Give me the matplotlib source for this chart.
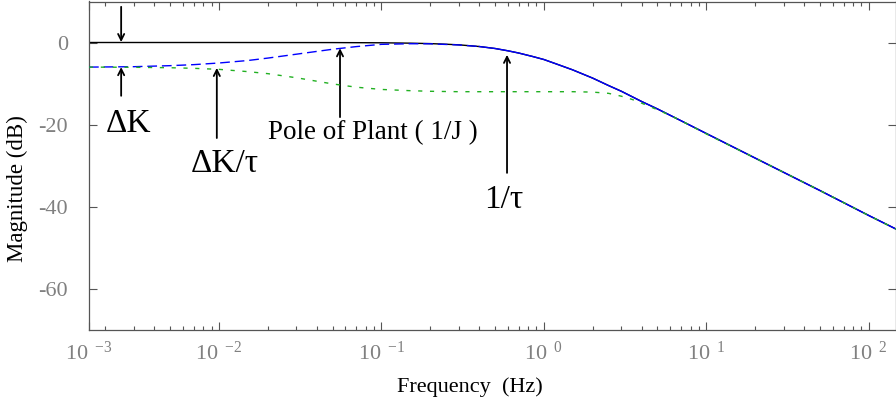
import matplotlib
matplotlib.use("Agg")
import matplotlib.pyplot as plt
from matplotlib.ticker import FixedLocator, FixedFormatter, LogLocator, NullFormatter

plt.rcParams['font.family'] = ['Liberation Serif', 'DejaVu Serif']
plt.rcParams['mathtext.fontset'] = 'custom'
plt.rcParams['mathtext.rm'] = 'Liberation Serif'
plt.rcParams['mathtext.it'] = 'Liberation Serif:italic'
plt.rcParams['axes.unicode_minus'] = False

# ---------------- data ----------------
freq_black = [0.001585, 0.01, 0.05, 0.1, 0.15, 0.2, 0.25, 0.3, 0.4, 0.5, 0.6, 0.7,
              0.85, 1.0, 1.2, 1.5, 2.0, 2.5, 3.0, 4.0, 5.0, 7.0, 10, 20, 50, 100, 147]
mag_black = [0.0, 0.0, -0.02, -0.07, -0.16, -0.27, -0.42, -0.57, -0.98, -1.46, -2.02, -2.57,
             -3.40, -4.15, -5.27, -6.66, -8.7, -10.5, -11.9, -14.4, -16.2, -19.1, -22.2,
             -28.2, -36.1, -42.2, -45.5]

freq_blue = [0.001585, 0.003, 0.005, 0.007, 0.01, 0.015, 0.02, 0.03, 0.05, 0.07, 0.1,
             0.15, 0.2, 0.3, 0.4, 0.5, 0.6, 0.7, 0.85, 1.0, 1.2, 1.5, 2.0, 2.5, 3.0, 4.0,
             5.0, 7.0, 10, 20, 50, 100, 147]
mag_blue = [-6.0, -5.9, -5.65, -5.4, -5.0, -4.4, -3.8, -2.85, -1.65, -1.0, -0.45,
            -0.3, -0.32, -0.6, -0.98, -1.46, -2.02, -2.57, -3.40, -4.15, -5.27, -6.66,
            -8.7, -10.5, -11.9, -14.4, -16.2, -19.1, -22.2, -28.2, -36.1, -42.2, -45.5]

freq_green = [0.001585, 0.003, 0.005, 0.007, 0.01, 0.015, 0.02, 0.03, 0.05, 0.07, 0.1,
              0.15, 0.2, 0.3, 0.5, 1.0, 1.5, 2.0, 2.5, 3.0, 3.5, 4.0, 5.0, 6.0, 7.0,
              10, 20, 50, 100, 147]
mag_green = [-6.0, -6.05, -6.15, -6.3, -6.55, -7.1, -7.6, -8.6, -10.1, -10.9, -11.45,
             -11.75, -11.9, -12.0, -12.0, -12.0, -12.0, -12.1, -12.4, -13.1, -13.9,
             -14.8, -16.4, -17.8, -19.1, -22.3, -28.2, -36.1, -42.2, -45.5]

# frequency above which the blue dashed trace renders as a solid line
blue_solid_from = 0.4

x_limits = [0.001585, 147]
y_limits = [-70, 10]
x_major = [0.001585, 1e-2, 1e-1, 1e0, 1e1, 1e2]
x_exponents = ['-3', '-2', '-1', '0', '1', '2']
y_major = [-60, -40, -20, 0]

# annotations: (text, text_x, text_y, arrow_x, arrow_from_y, arrow_to_y)
annotations = [
    ("ΔK", 0.00279, -21.8, 0.0025, -13.0, -6.0),
    ("ΔK/τ", 0.0109, -31.5, 0.0097, -23.3, -6.2),
    ("Pole of Plant ( 1/J )", 0.0881, -23.5, 0.0556, -18.2, -1.4),
    ("1/τ", 0.569, -40.4, 0.593, -31.8, -3.0),
]
down_arrow = (0.0025, 8.7, 0.1)

# ---------------- figure ----------------
fig = plt.figure(figsize=(8.96, 4.12), dpi=100)
ax = fig.add_axes([89/896, (412-329.5)/412, 807/896, 328/412])

ax.plot(freq_black, mag_black, color='black', lw=1.0, solid_capstyle='butt', zorder=2)

i_split = next(i for i, f in enumerate(freq_blue) if f >= blue_solid_from)
ax.plot(freq_blue[:i_split + 1], mag_blue[:i_split + 1], color='#0000ff', lw=1.0,
        linestyle=(0, (7, 3.5)), zorder=3)
ax.plot(freq_blue[i_split:], mag_blue[i_split:], color='#0000ff', lw=1.0,
        linestyle='-', zorder=3)
ax.plot(freq_green, mag_green, color='#22b022', lw=1.0, linestyle=(0, (3, 5.5)), zorder=4)

ax.set_xscale('log')
ax.set_xlim(x_limits)
ax.set_ylim(y_limits)

x_labels = [r'$\mathregular{10}^{\ \ \mathregular{%s}}$' % e for e in x_exponents]
ax.xaxis.set_major_locator(FixedLocator(x_major))
ax.xaxis.set_major_formatter(FixedFormatter(x_labels))
ax.xaxis.set_minor_locator(LogLocator(base=10, subs=[2, 3, 4, 5, 6, 7, 8, 9], numticks=20))
ax.xaxis.set_minor_formatter(NullFormatter())
ax.yaxis.set_major_locator(FixedLocator(y_major))

spine_col = '#555555'
for s in ax.spines.values():
    s.set_color(spine_col)
    s.set_linewidth(0.9)

ax.tick_params(which='both', direction='in', top=True, right=True, color=spine_col, width=0.8)
ax.tick_params(which='major', length=5.8)
ax.tick_params(which='minor', length=3.1)
ax.tick_params(axis='x', labelsize=16, labelcolor='#808080', pad=8.5)
ax.tick_params(axis='y', labelsize=16, labelcolor='#808080', pad=15)

ax.set_xlabel("Frequency  (Hz)", fontsize=16)
ax.xaxis.set_label_coords(0.472, -0.145)
ax.set_ylabel("Magnitude (dB)", fontsize=16.5)
ax.yaxis.set_label_coords(-0.0756, 0.431)

arrow_kw = dict(arrowstyle='->', lw=1.3, color='black', mutation_scale=11,
                shrinkA=0, shrinkB=0)

ax.annotate("", xy=(down_arrow[0], down_arrow[2]), xytext=(down_arrow[0], down_arrow[1]),
            arrowprops=arrow_kw, annotation_clip=False)

for text, tx, ty, axx, ay0, ay1 in annotations:
    ax.annotate("", xy=(axx, ay1), xytext=(axx, ay0), arrowprops=arrow_kw)
    size = 19.5 if text.startswith("Pole") else 24
    ax.text(tx, ty, text, ha='center', va='baseline', fontsize=size, color='black')

fig.savefig("out.png", dpi=100)
